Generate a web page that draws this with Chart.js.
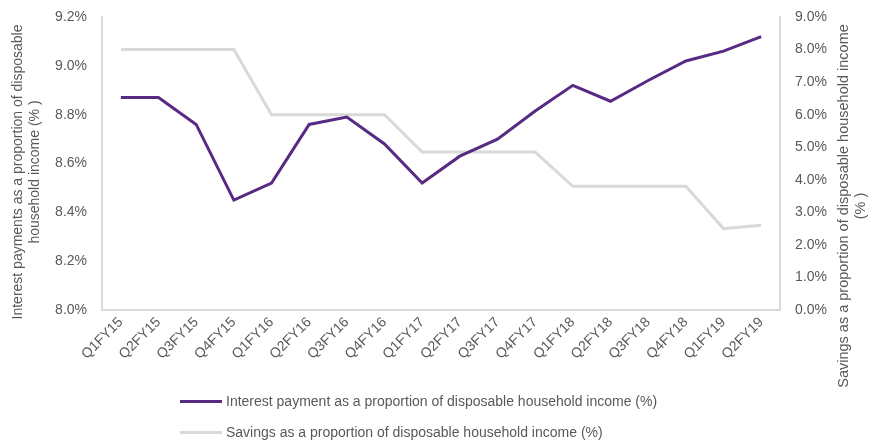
<!DOCTYPE html>
<html>
<head>
<meta charset="utf-8">
<script src="https://cdn.jsdelivr.net/npm/chart.js@4"></script>
<style>
  html, body { margin: 0; padding: 0; background: #fff; }
  #wrap { position: relative; width: 870px; height: 442px; }
  #legend { position: absolute; left: 180px; top: 390px; font: 14px "Liberation Sans", Arial, sans-serif; color: #595959; }
  .item { height: 31px; line-height: 22px; white-space: nowrap; }
  .swatch { display: inline-block; width: 42px; height: 3px; vertical-align: middle; margin-right: 4px; position: relative; top: -1px; }
</style>
</head>
<body>
<div id="wrap">
  <canvas id="firstChart" width="870" height="442"></canvas>
  <div id="legend"></div>
</div>
<script>
const quarters = ['Q1FY15', 'Q2FY15', 'Q3FY15', 'Q4FY15', 'Q1FY16', 'Q2FY16', 'Q3FY16', 'Q4FY16', 'Q1FY17',
    'Q2FY17', 'Q3FY17', 'Q4FY17', 'Q1FY18', 'Q2FY18', 'Q3FY18', 'Q4FY18', 'Q1FY19', 'Q2FY19'];
const interestShare = [8.87, 8.87, 8.76, 8.45, 8.52, 8.76, 8.79, 8.68, 8.52,
    8.63, 8.70, 8.815, 8.92, 8.855, 8.94, 9.02, 9.06, 9.12];
const savingsShare = [8.0, 8.0, 8.0, 8.0, 6.0, 6.0, 6.0, 6.0, 4.85,
    4.85, 4.85, 4.85, 3.8, 3.8, 3.8, 3.8, 2.5, 2.6];
const leftTicks = [8.0, 8.2, 8.4, 8.6, 8.8, 9.0, 9.2];
const rightTicks = [0, 1, 2, 3, 4, 5, 6, 7, 8, 9];

const seriesNames = [
    'Interest payment as a proportion of disposable household income (%)',
    'Savings as a proportion of disposable household income (%)'
];
const leftTitle = ['Interest payments as a proportion of disposable', 'household income (% )'];
const rightTitle = ['Savings as a proportion of disposable household income', '(% )'];

const textColor = '#595959';
const axisColor = '#d9d9d9';
const purple = '#582a83';
const grey = '#d9d9d9';
const fontFamily = '"Liberation Sans", Arial, sans-serif';

Chart.defaults.font.family = fontFamily;
Chart.defaults.font.size = 14;
Chart.defaults.color = textColor;

// axis titles, drawn by hand so the right one reads bottom to top like the original
const axisTitles = {
    id: 'axisTitles',
    afterDraw(c) {
        const ctx = c.ctx;
        ctx.save();
        ctx.fillStyle = textColor;
        ctx.textAlign = 'center';
        ctx.textBaseline = 'middle';
        const put = (x, y, str, size) => {
            ctx.save();
            ctx.font = size + 'px ' + fontFamily;
            ctx.translate(x, y);
            ctx.rotate(-Math.PI / 2);
            ctx.fillText(str, 0, 0);
            ctx.restore();
        };
        put(18, 172, leftTitle[0], 14);
        put(35, 172, leftTitle[1], 14);
        put(844, 206, rightTitle[0], 14.5);
        put(861, 206, rightTitle[1], 14.5);
        ctx.restore();
    }
};

const chart = document.getElementById('firstChart').getContext('2d');

const chartData = {
    labels: quarters,
    datasets: [{
        label: seriesNames[0],
        data: interestShare,
        yAxisID: 'y',
        borderColor: purple,
        backgroundColor: purple,
        borderWidth: 3,
        pointRadius: 0,
        tension: 0,
    }, {
        label: seriesNames[1],
        data: savingsShare,
        yAxisID: 'y1',
        borderColor: grey,
        backgroundColor: grey,
        borderWidth: 3,
        pointRadius: 0,
        tension: 0,
    }]
};

const firstChart = new Chart(chart, {
    type: 'line',
    data: chartData,
    plugins: [axisTitles],
    options: {
        responsive: false,
        animation: false,
        layout: {
            padding: { top: 17, left: 0, right: 0, bottom: 0 }
        },
        plugins: {
            legend: { display: false },
            tooltip: { enabled: false }
        },
        scales: {
            x: {
                offset: true,
                grid: { display: false, drawTicks: false },
                border: { color: axisColor, width: 2 },
                ticks: {
                    color: textColor,
                    maxRotation: 45,
                    minRotation: 45,
                    autoSkip: false,
                    padding: 4
                },
                afterFit(s) { s.height = 132; s.paddingLeft = 0; s.paddingRight = 0; }
            },
            y: {
                position: 'left',
                min: leftTicks[0],
                max: leftTicks[leftTicks.length - 1],
                grid: { display: false, drawTicks: false },
                border: { color: axisColor, width: 2 },
                afterBuildTicks(s) { s.ticks = leftTicks.map(v => ({ value: v })); },
                ticks: {
                    color: textColor,
                    padding: 15,
                    callback: v => v.toFixed(1) + '%'
                },
                afterFit(s) { s.width = 102; s.paddingTop = 0; s.paddingBottom = 0; }
            },
            y1: {
                position: 'right',
                min: rightTicks[0],
                max: rightTicks[rightTicks.length - 1],
                grid: { display: false, drawTicks: false },
                border: { color: axisColor, width: 2 },
                afterBuildTicks(s) { s.ticks = rightTicks.map(v => ({ value: v })); },
                ticks: {
                    color: textColor,
                    padding: 15,
                    callback: v => v.toFixed(1) + '%'
                },
                afterFit(s) { s.width = 90; s.paddingTop = 0; s.paddingBottom = 0; }
            }
        }
    },
});

// legend below the plot, left aligned block like the source
const legendBox = document.getElementById('legend');
chartData.datasets.forEach(ds => {
    const row = document.createElement('div');
    row.className = 'item';
    const sw = document.createElement('span');
    sw.className = 'swatch';
    sw.style.background = ds.borderColor;
    row.appendChild(sw);
    row.appendChild(document.createTextNode(ds.label));
    legendBox.appendChild(row);
});
</script>
</body>
</html>
